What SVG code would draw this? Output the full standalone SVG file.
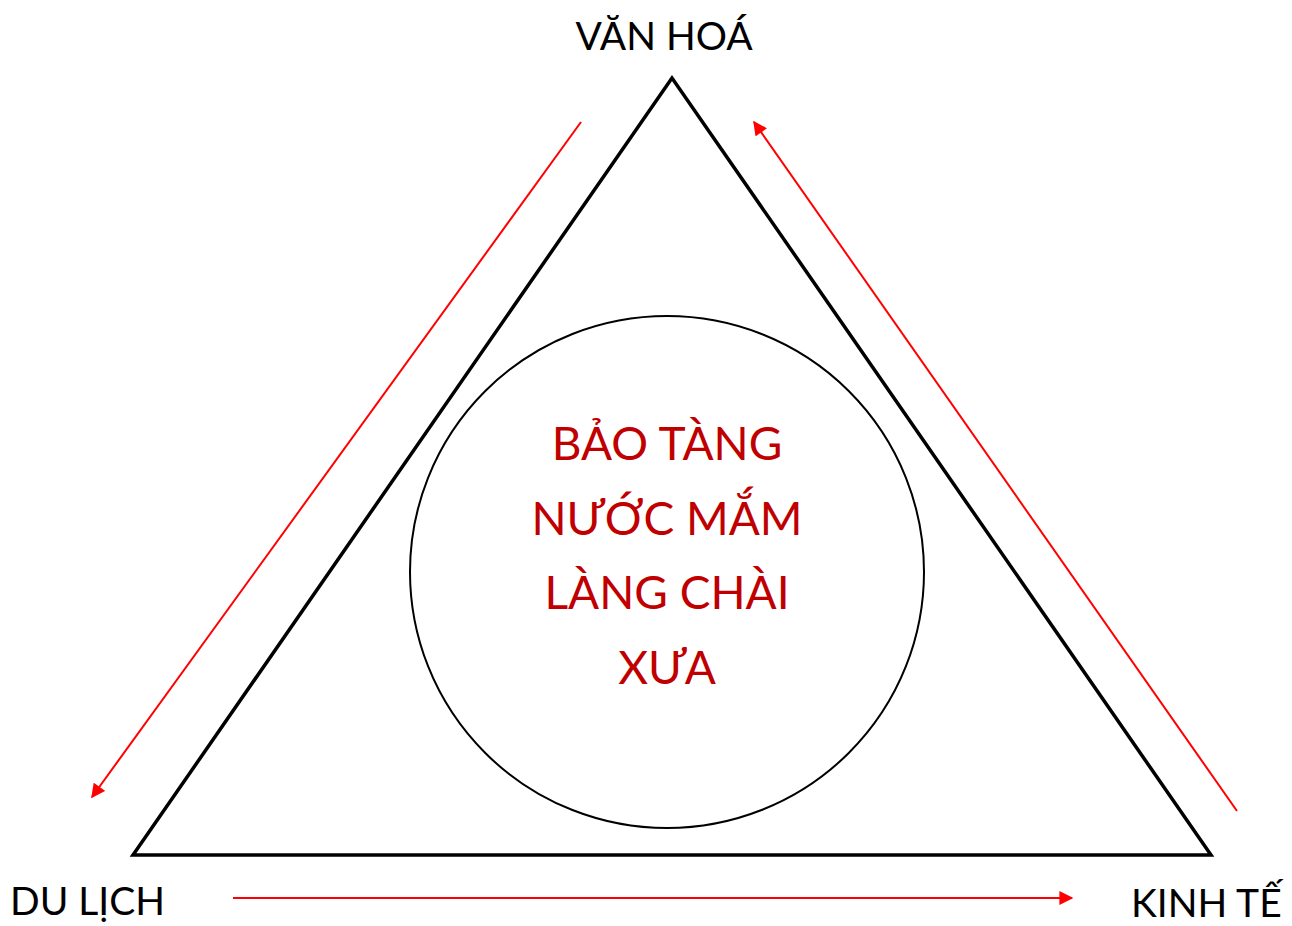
<svg xmlns="http://www.w3.org/2000/svg" width="1292" height="926" viewBox="0 0 1292 926">
<defs>
<style>
.lbl{font-family:Lato,"Open Sans","Liberation Sans",sans-serif;font-size:39px;fill:#000}
.ctr{font-family:Lato,"Open Sans","Liberation Sans",sans-serif;font-size:46px;fill:#C00000;text-anchor:middle}
.arr{stroke:#FF0000;stroke-width:2;fill:none;marker-end:url(#ah)}
</style>
<marker id="ah" viewBox="0 0 10 10" refX="9" refY="5" markerWidth="15" markerHeight="14" markerUnits="userSpaceOnUse" orient="auto">
<path d="M0,0 L10,5 L0,10 z" fill="#FF0000"/>
</marker>
</defs>
<rect width="1292" height="926" fill="#fff"/>
<g id="triangle">
<polygon points="672,78 133,855 1211,855" fill="none" stroke="#000" stroke-width="3.5" stroke-linejoin="miter"/>
</g>
<g id="center">
<ellipse cx="667" cy="572" rx="257" ry="256" fill="none" stroke="#000" stroke-width="2"/>
<text class="ctr" x="667" y="460">BẢO TÀNG</text>
<text class="ctr" x="667" y="535">NƯỚC MẮM</text>
<text class="ctr" x="667" y="609">LÀNG CHÀI</text>
<text class="ctr" x="667" y="684">XƯA</text>
</g>
<g id="van-hoa"><text class="lbl" x="664" y="50" text-anchor="middle">VĂN HOÁ</text></g>
<g id="du-lich"><text class="lbl" x="10" y="915">DU LỊCH</text></g>
<g id="kinh-te"><text class="lbl" x="1131" y="917">KINH TẾ</text></g>
<g id="connectors">
<line class="arr" x1="581" y1="122" x2="92" y2="797"/>
<line class="arr" x1="1237" y1="811" x2="754" y2="122"/>
<line class="arr" x1="233" y1="898" x2="1072" y2="898"/>
</g>
</svg>
